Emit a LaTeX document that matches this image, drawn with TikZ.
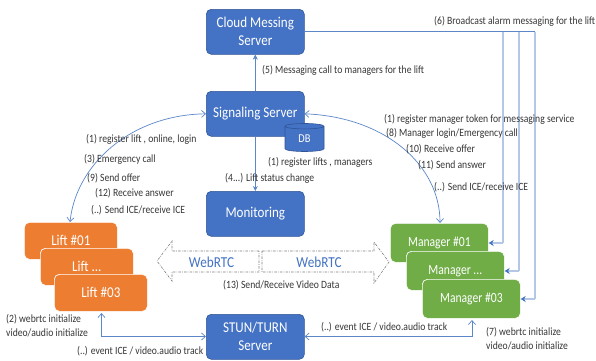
\documentclass[tikz,border=0pt]{standalone}
\usepackage{fontspec}
\setmainfont[FakeStretch=0.87]{Carlito}
\newfontfamily\mgrfont[FakeStretch=0.83]{Carlito}
\usetikzlibrary{arrows.meta,shapes.geometric}
\definecolor{bluebox}{HTML}{4472C4}
\definecolor{blueedge}{HTML}{2F5597}
\definecolor{orangebox}{HTML}{ED7D31}
\definecolor{greenbox}{HTML}{70AD47}
\definecolor{linkblue}{HTML}{5B86C8}
\definecolor{palelink}{HTML}{B4C7E7}
\definecolor{labelgray}{HTML}{363636}
\definecolor{dashgray}{HTML}{7F7F7F}
\tikzset{
  x=1pt,y=-1pt,
  boxbase/.style={rounded corners=5pt,anchor=north west,align=center,text=white,font=\fontsize{15}{18}\selectfont,inner sep=0pt},
  server/.style={boxbase,fill=bluebox,draw=blueedge,line width=0.6pt,minimum width=98pt,minimum height=45pt},
  liftbox/.style={boxbase,fill=orangebox,draw=white,line width=0.7pt,minimum width=93pt,minimum height=37pt},
  mgrbox/.style={boxbase,fill=greenbox,draw=white,line width=0.7pt,minimum width=98pt,minimum height=39pt,font=\mgrfont\fontsize{14}{16}\selectfont},
  lbl/.style={anchor=west,inner sep=0pt,yshift=-0.8pt,text=labelgray,font=\fontsize{11.1}{12}\selectfont},
  link/.style={draw=linkblue,line width=0.7pt},
  headone/.style={-{Stealth[length=5pt,width=5pt]}},
  openboth/.style={{Straight Barb[length=4pt,width=7pt]}-{Straight Barb[length=4pt,width=7pt]}},
  palevert/.style={draw=palelink,line width=1.2pt},
  elbowhead/.style={-{Stealth[length=5pt,width=6pt,color=bluebox]}},
  webarrow/.style={draw=dashgray,line width=0.6pt,dash pattern=on 2.5pt off 1.2pt on 0.7pt off 1.2pt},
  webtext/.style={inner sep=0pt,text=bluebox,font=\fontsize{15.2}{17}\selectfont}
}
\begin{document}
\begin{tikzpicture}
\useasboundingbox (0,0) rectangle (596,360);
\fill[white] (0,0) rectangle (596,360);

% servers
\node[server] (cloud) at (206,9) {Cloud Messing\\Server};
\node[server] (signal) at (206,91) {Signaling Server};
\node[server] (monitor) at (206,191) {Monitoring};
\node[server] (stun) at (206,314) {STUN/TURN\\Server};
\node[cylinder,shape border rotate=90,aspect=0.45,draw=blueedge,fill=bluebox,line width=0.6pt,
      minimum width=39pt,minimum height=28pt,inner sep=0pt,text=white,anchor=center,
      font=\fontsize{12}{13}\selectfont] (db) at (304.5,139) {DB};

% lifts
\node[liftbox] (lifta) at (24,222) {Lift \#01};
\node[liftbox] (liftb) at (40,248) {Lift ...};
\node[liftbox] (liftc) at (54,274) {Lift \#03};

% managers
\node[mgrbox] (mgra) at (390,223) {Manager \#01};
\node[mgrbox] (mgrb) at (406,251) {Manager ...};
\node[mgrbox] (mgrc) at (422,279) {Manager \#03};

% straight links
\draw[link,headone] (signal.north) -- (cloud.south);
\draw[link,headone] (signal.south) -- (monitor.north);

% curved links
\draw[link,openboth] (lifta.north west)++(46,0) coordinate (liftTop)
  (liftTop) .. controls (76,165) and (130,115) .. (signal.west);
\draw[link,openboth] (signal.east) .. controls (385,117) and (440,165) .. (mgra.north west -| 440,223);

% broadcast lines
\coordinate (busA) at (503,31.5);
\coordinate (busB) at (519,31.5);
\coordinate (busC) at (535,31.5);
\draw[link] (cloud.east |- busC) -- (busC);
\draw[palevert] (busA) -- (503,243);
\draw[palevert] (busB) -- (519,271);
\draw[palevert] (busC) -- (535,299);
\draw[palevert,elbowhead] (503,243) -- (mgra.east |- 0,243);
\draw[palevert,elbowhead] (519,271) -- (mgrb.east |- 0,271);
\draw[palevert,elbowhead] (535,299) -- (mgrc.east |- 0,299);

% STUN links
\coordinate (liftPort) at (101.5,313);
\coordinate (mgrPort) at (472,320);
\draw[link,openboth] (liftPort) |- (stun.west |- 0,336.5);
\draw[link,openboth] (mgrPort) |- (stun.east |- 0,336.5);

% WebRTC block arrows
\node[webtext] (webl) at (211.5,262) {WebRTC};
\node[webtext] (webr) at (319,262) {WebRTC};
\draw[webarrow] (259,251) -- (172,251) -- (172,241) -- (157,261) -- (172,281) -- (172,272) -- (259,272) -- cycle;
\draw[webarrow] (262,251) -- (374,251) -- (374,242) -- (389,262) -- (374,283) -- (374,272) -- (262,272) -- cycle;

% labels
\node[lbl] (l1) at (434,21) {(6) Broadcast alarm messaging for the lift};
\node[lbl] (l2) at (262,70) {(5) Messaging call to managers for the lift};
\node[lbl] (l3) at (86,139) {(1) register lift ,\ online, login};
\node[lbl] (l4) at (84,159) {(3) Emergency call};
\node[lbl] (l5) at (87,177) {(9) Send offer};
\node[lbl] (l6) at (95,192) {(12) Receive answer};
\node[lbl] (l7) at (91,209) {(..) Send ICE/receive ICE};
\node[lbl] (l8) at (268,162) {(1) register lifts , managers};
\node[lbl] (l9) at (225,178) {(4...) Lift status change};
\node[lbl] (l10) at (384,119) {(1) register manager token for messaging service};
\node[lbl] (l11) at (386,133) {(8) Manager login/Emergency call};
\node[lbl] (l12) at (406,148) {(10) Receive offer};
\node[lbl] (l13) at (418,164) {(11) Send answer};
\node[lbl] (l14) at (434,186.5) {(..) Send ICE/receive ICE};
\node[lbl] (l15) at (223,284) {(13) Send/Receive Video Data};
\node[lbl] (l16) at (6,318) {(2) webrtc initialize};
\node[lbl] (l17) at (6,332) {video/audio initialize};
\node[lbl] (l18) at (77,350) {(..) event ICE / video.audio track};
\node[lbl] (l19) at (321,326) {(..) event ICE / video.audio track};
\node[lbl] (l20) at (486,331) {(7) webrtc initialize};
\node[lbl] (l21) at (486,345) {video/audio initialize};
\end{tikzpicture}
\end{document}
